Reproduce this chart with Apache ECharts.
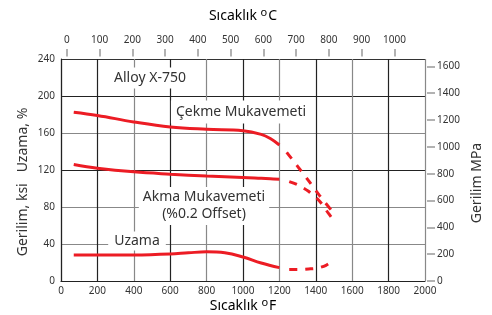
<!DOCTYPE html>
<html lang="tr">
<head>
<meta charset="UTF-8">
<title>Alloy X-750</title>
<script src="https://cdn.jsdelivr.net/npm/echarts@6/dist/echarts.min.js"></script>
<style>
  html, body { margin: 0; padding: 0; background: #fff; }
  #chart { width: 492px; height: 315px; }
</style>
</head>
<body>
<div id="chart"></div>
<script>
// sıcaklık (°F) ve gerilim (ksi) / uzama (%) değerleri
var solidTempF   = [70, 200, 400, 600, 800, 1000, 1100, 1150, 1200];
var tensileSolid = [182.5, 179, 172, 166.5, 164, 162.5, 158.5, 154, 147];
var yieldSolid   = [126, 122, 118, 115.5, 113.5, 112, 111, 110.5, 110];

var elongTempF   = [70, 200, 400, 600, 700, 800, 900, 1000, 1100, 1200];
var elongSolid   = [28, 28, 28.2, 29.3, 30.5, 31.5, 30.5, 26, 19.5, 14.5];

var tensileDashF = [1240, 1300, 1360, 1420, 1500];
var tensileDash  = [139, 124, 108.5, 92.5, 73];
var yieldDashF   = [1254, 1300, 1360, 1420, 1470, 1500];
var yieldDash    = [107.5, 104, 97, 86.5, 73, 65];
var elongDashF   = [1254, 1310, 1360, 1410, 1456, 1500];
var elongDash    = [12.4, 12.4, 13, 14, 17, 22.5];

var celsiusTicks = [0, 100, 200, 300, 400, 500, 600, 700, 800, 900, 1000];
var mpaTicks     = [0, 200, 400, 600, 800, 1000, 1200, 1400, 1600];

var KSI_TO_MPA = 6.895;
var RED = '#ec1c24';
var FONT = 'Noto Sans';
var TXT = '#333';

function plain(v) { return String(Math.round(v)); }

function pairs(xs, ys) {
    return xs.map(function (x, i) { return [x, ys[i]]; });
}

function solid(name, xs, ys) {
    return {
        name: name, type: 'line', data: pairs(xs, ys),
        smooth: 0.4, symbol: 'none', silent: true,
        lineStyle: { color: RED, width: 3 }
    };
}
function dashed(name, xs, ys) {
    return {
        name: name, type: 'line', data: pairs(xs, ys),
        smooth: 0.3, symbol: 'none', silent: true,
        lineStyle: { color: RED, width: 3, type: [8, 8] }
    };
}

function label(text, x, y, pad) {
    return {
        type: 'text', x: x, y: y, z: 100,
        style: {
            text: text, fill: TXT, font: '14px "' + FONT + '"',
            align: 'center', verticalAlign: 'middle',
            backgroundColor: '#fff', padding: pad, lineHeight: 17
        }
    };
}

function axisTitle(unit, x, y) {
    return {
        type: 'text', x: x, y: y, z: 100,
        style: {
            text: '{a|Sıcaklık }{s|o}{a|' + unit + '}', align: 'center', verticalAlign: 'middle',
            rich: {
                a: { fontSize: 14, fontFamily: FONT, color: TXT },
                s: { fontSize: 11, fontFamily: FONT, color: TXT, verticalAlign: 'top', padding: [0, 1, 6, 0] }
            }
        }
    };
}

var option = {
    animation: false,
    backgroundColor: '#fff',
    textStyle: { fontFamily: FONT },
    grid: { left: 61, right: 67, top: 59, bottom: 34 },
    xAxis: [
        {
            type: 'value', position: 'bottom', min: 0, max: 2000, interval: 200,
            axisLine: { lineStyle: { color: '#222', width: 1.2 } },
            axisTick: { show: false },
            axisLabel: { color: TXT, fontSize: 10, margin: 5, formatter: plain },
            splitLine: { lineStyle: { color: ['#888', '#222'], width: 1.2 } }
        },
        {
            // °C ekseni, °F ile hizalı
            type: 'value', position: 'top', offset: 2.5,
            min: -32 / 1.8, max: (2000 - 32) / 1.8,
            axisLine: { show: false, onZero: false },
            axisTick: { customValues: celsiusTicks, length: 7.5, lineStyle: { color: '#999', width: 1.5 } },
            axisLabel: { customValues: celsiusTicks, color: TXT, fontSize: 10, margin: 11, formatter: plain },
            splitLine: { show: false }
        }
    ],
    yAxis: [
        {
            type: 'value', min: 0, max: 240, interval: 40,
            axisLine: { show: true, lineStyle: { color: '#222', width: 1.2 } },
            axisTick: { show: false },
            axisLabel: { color: TXT, fontSize: 10, margin: 6, formatter: plain },
            splitLine: { lineStyle: { color: ['#222', '#888', '#888', '#222', '#888', '#222', '#333'], width: 1.2 } }
        },
        {
            type: 'value', position: 'right', offset: 2,
            min: 0, max: 240 * KSI_TO_MPA,
            axisLine: { show: false, onZero: false },
            axisTick: { customValues: mpaTicks, length: 8, lineStyle: { color: '#999', width: 1.5 } },
            axisLabel: { customValues: mpaTicks, color: TXT, fontSize: 10, margin: 10, formatter: plain },
            splitLine: { show: false }
        }
    ],
    graphic: [
        axisTitle('C', 243, 16),
        axisTitle('F', 243, 306),
        {
            type: 'text', x: 23, y: 182, rotation: Math.PI / 2, z: 100,
            style: {
                text: 'Gerilim, ksi   Uzama, %', fill: TXT, font: '14px "' + FONT + '"',
                align: 'center', verticalAlign: 'middle'
            }
        },
        {
            type: 'text', x: 477, y: 183, rotation: Math.PI / 2, z: 100,
            style: {
                text: 'Gerilim MPa', fill: TXT, font: '14px "' + FONT + '"',
                align: 'center', verticalAlign: 'middle'
            }
        },
        label('Alloy X-750', 150, 78, [2, 4]),
        label('Çekme Mukavemeti', 241, 112, [3, 5]),
        label('Akma Mukavemeti\n(%0.2 Offset)', 204, 206, [2, 4]),
        label('Uzama', 137, 241, [1, 6])
    ],
    series: [
        solid('Çekme', solidTempF, tensileSolid),
        solid('Akma', solidTempF, yieldSolid),
        solid('Uzama', elongTempF, elongSolid),
        dashed('Çekme2', tensileDashF, tensileDash),
        dashed('Akma2', yieldDashF, yieldDash),
        dashed('Uzama2', elongDashF, elongDash)
    ]
};

var chart = echarts.init(document.getElementById('chart'), null, { renderer: 'canvas' });
chart.setOption(option);
</script>
</body>
</html>
